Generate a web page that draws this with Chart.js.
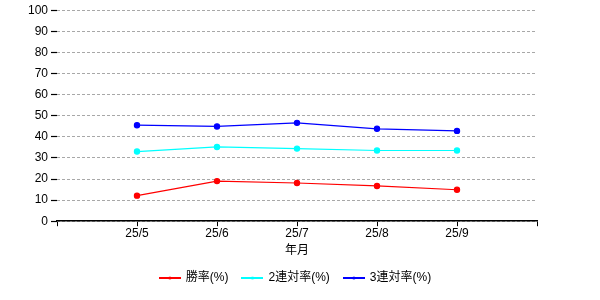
<!DOCTYPE html>
<html lang="ja">
<head>
  <meta charset="UTF-8">
  <title>勝率</title>
  <script src="https://cdn.jsdelivr.net/npm/chart.js"></script>
  <style>
    html, body { margin: 0; padding: 0; background: #fff; }
    #wrap { width: 600px; height: 300px; }
  </style>
</head>
<body>
  <div id="wrap"><canvas id="chart" width="600" height="300"></canvas></div>
  <script>
    // data
    const months = ['25/5', '25/6', '25/7', '25/8', '25/9'];
    const winRate = [12.1, 19.0, 18.1, 16.7, 14.9];
    const top2Rate = [33.0, 35.2, 34.4, 33.5, 33.5];
    const top3Rate = [45.5, 44.9, 46.6, 43.8, 42.8];
    const yTicks = [0, 10, 20, 30, 40, 50, 60, 70, 80, 90, 100];

    const FONT = "'Liberation Sans', 'Noto Sans CJK JP', sans-serif";

    // legend marker: short line with a dot in the middle
    function legendMark(color) {
      const c = document.createElement('canvas');
      c.width = 22; c.height = 6;
      const g = c.getContext('2d');
      g.strokeStyle = color;
      g.lineWidth = 2;
      g.beginPath(); g.moveTo(0, 3); g.lineTo(22, 3); g.stroke();
      g.fillStyle = color;
      g.beginPath(); g.arc(11, 3, 1.5, 0, Math.PI * 2); g.fill();
      return c;
    }

    function series(label, values, color) {
      return {
        label: label,
        data: values.map((v, i) => ({ x: i + 1, y: v })),
        borderColor: color,
        backgroundColor: color,
        borderWidth: 1.2,
        pointRadius: 2.6,
        pointHoverRadius: 3,
        pointStyle: 'circle',
        legendStyle: legendMark(color),
        tension: 0
      };
    }

    const ds = [
      series('勝率(%)', winRate, '#ff0000'),
      series('2連対率(%)', top2Rate, '#00ffff'),
      series('3連対率(%)', top3Rate, '#0000ff')
    ];

    new Chart(document.getElementById('chart'), {
      type: 'line',
      data: { datasets: ds },
      options: {
        responsive: false,
        animation: false,
        events: [],
        layout: { padding: { top: 9, right: 9, left: 0, bottom: 6 } },
        plugins: {
          tooltip: { enabled: false },
          legend: {
            position: 'bottom',
            labels: {
              color: '#000',
              font: { family: FONT, size: 12 },
              usePointStyle: true,
              pointStyleWidth: 20,
              boxHeight: 6,
              padding: 14,
              generateLabels: chart => chart.data.datasets.map((d, i) => ({
                text: d.label,
                fillStyle: d.borderColor,
                strokeStyle: d.borderColor,
                pointStyle: d.legendStyle,
                fontColor: '#000',
                lineWidth: 0,
                datasetIndex: i
              }))
            }
          }
        },
        scales: {
          x: {
            type: 'linear',
            min: 0,
            max: months.length + 1,
            afterBuildTicks: axis => {
              axis.ticks = [];
              for (let i = 0; i <= months.length + 1; i++) axis.ticks.push({ value: i });
            },
            ticks: {
              color: '#000',
              font: { family: FONT, size: 12 },
              padding: 0.5,
              maxRotation: 0,
              autoSkip: false,
              callback: v => months[v - 1] || ''
            },
            grid: {
              drawOnChartArea: false,
              drawTicks: true,
              tickLength: 5,
              tickColor: '#000',
              tickWidth: 1
            },
            border: { display: true, color: '#000', width: 1.5 },
            title: {
              display: true,
              text: '年月',
              color: '#000',
              font: { family: FONT, size: 12 },
              padding: { top: 2, bottom: 0 }
            }
          },
          y: {
            min: 0,
            max: 100,
            afterBuildTicks: axis => { axis.ticks = yTicks.map(v => ({ value: v })); },
            afterFit: axis => { axis.width = 57; },
            ticks: {
              color: '#000',
              font: { family: FONT, size: 12 },
              padding: 3
            },
            grid: {
              color: '#a8a8a8',
              lineWidth: 1,
              drawTicks: true,
              tickLength: 6,
              tickColor: '#000',
              tickWidth: 1.2
            },
            border: { display: false, dash: [3, 2] }
          },
          // empty right-hand axis that only reserves the blank margin
          yRight: {
            position: 'right',
            display: true,
            min: 0,
            max: 100,
            afterFit: axis => { axis.width = 54; },
            ticks: { display: false },
            grid: { display: false },
            border: { display: false }
          }
        }
      }
    });
  </script>
</body>
</html>
